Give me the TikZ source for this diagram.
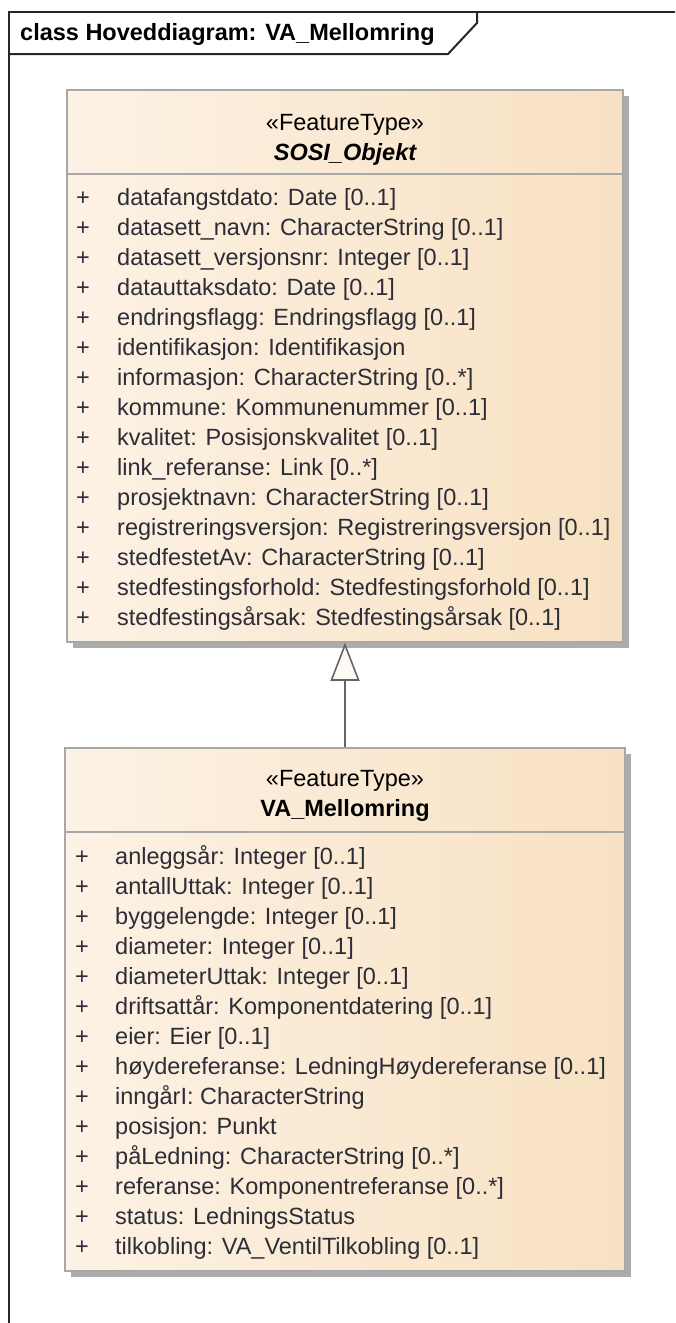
\documentclass[tikz,border=0pt]{standalone}
\usepackage{fontspec}
\setmainfont{Liberation Sans}
\usetikzlibrary{arrows.meta,shadows}

\definecolor{boxleft}{RGB}{252,242,229}
\definecolor{boxright}{RGB}{248,225,194}
\definecolor{boxline}{RGB}{168,168,168}
\definecolor{shadowgray}{RGB}{172,172,172}
\definecolor{linkgray}{RGB}{100,100,100}
\definecolor{tipfill}{RGB}{253,250,243}
\definecolor{attrtext}{RGB}{45,45,55}

\newcommand{\umlfont}{\fontsize{23.5}{28}\selectfont}

\begin{document}
\begin{tikzpicture}[x=1pt, y=-1pt,
		every node/.style={font=\umlfont, inner sep=0pt},
		classbox/.style={draw=boxline, line width=1.5pt, left color=boxleft, right color=boxright,
			drop shadow={shadow xshift=6pt, shadow yshift=-6pt, fill=shadowgray, opacity=1}},
		sepline/.style={draw=boxline, line width=2pt},
		attr/.style={anchor=base west, text=attrtext},
		plus/.style={anchor=base, text=attrtext}]
	\useasboundingbox (0,0) rectangle (675,1323);
	\clip (0,0) rectangle (675,1323);

	% Diagram frame with title tab
	\draw[line width=2pt, black!85] (9,1340) -- (9,12) -- (690,12);
	\draw[line width=2pt, black!85] (9,54) -- (448,54) -- (477,23) -- (477,12);
	\node[anchor=base west, font=\umlfont\bfseries] (title) at (20,40) {class Hoveddiagram: VA\_Mellomring};

	% UPPER CLASS: SOSI_Objekt
	\node[classbox, minimum width=556pt, minimum height=552pt] (sosi) at (345,366) {};
	\draw[sepline] ([yshift=-85pt]sosi.north west) -- ([yshift=-85pt]sosi.north east);
	\node[anchor=base] (sosi-stereo) at (345,130) {«FeatureType»};
	\node[anchor=base, font=\umlfont\bfseries\itshape] (sosi-name) at (345,160) {SOSI\_Objekt};
	\foreach \t [count=\i] in {{datafangstdato: Date [0..1]}, {datasett\_navn: CharacterString [0..1]},
		{datasett\_versjonsnr: Integer [0..1]}, {datauttaksdato: Date [0..1]},
		{endringsflagg: Endringsflagg [0..1]}, {identifikasjon: Identifikasjon},
		{informasjon: CharacterString [0..*]}, {kommune: Kommunenummer [0..1]},
		{kvalitet: Posisjonskvalitet [0..1]}, {link\_referanse: Link [0..*]},
		{prosjektnavn: CharacterString [0..1]}, {registreringsversjon: Registreringsversjon [0..1]},
		{stedfestetAv: CharacterString [0..1]}, {stedfestingsforhold: Stedfestingsforhold [0..1]},
		{stedfestingsårsak: Stedfestingsårsak [0..1]}}
	{
		\node[plus] (sosi-p\i) at (83,175+30*\i) {+};
		\node[attr] (sosi-a\i) at (117,175+30*\i) {\t};
	}

	% LOWER CLASS: VA_Mellomring
	\node[classbox, minimum width=560pt, minimum height=523pt] (vam) at (345,1009.5) {};
	\draw[sepline] ([yshift=-85pt]vam.north west) -- ([yshift=-85pt]vam.north east);
	\node[anchor=base] (vam-stereo) at (345,786) {«FeatureType»};
	\node[anchor=base, font=\umlfont\bfseries] (vam-name) at (345,816) {VA\_Mellomring};
	\foreach \t [count=\i] in {{anleggsår: Integer [0..1]}, {antallUttak: Integer [0..1]},
		{byggelengde: Integer [0..1]}, {diameter: Integer [0..1]},
		{diameterUttak: Integer [0..1]}, {driftsattår: Komponentdatering [0..1]},
		{eier: Eier [0..1]}, {høydereferanse: LedningHøydereferanse [0..1]},
		{inngårI: CharacterString}, {posisjon: Punkt},
		{påLedning: CharacterString [0..*]}, {referanse: Komponentreferanse [0..*]},
		{status: LedningsStatus}, {tilkobling: VA\_VentilTilkobling [0..1]}}
	{
		\node[plus] (vam-p\i) at (82,834+30*\i) {+};
		\node[attr] (vam-a\i) at (115,834+30*\i) {\t};
	}

	% Generalization
	\draw[line width=1.6pt, linkgray, -{Triangle[length=38pt, width=29pt, fill=tipfill, line width=1.6pt]}]
		(vam.north) -- (sosi.south);
\end{tikzpicture}
\end{document}
